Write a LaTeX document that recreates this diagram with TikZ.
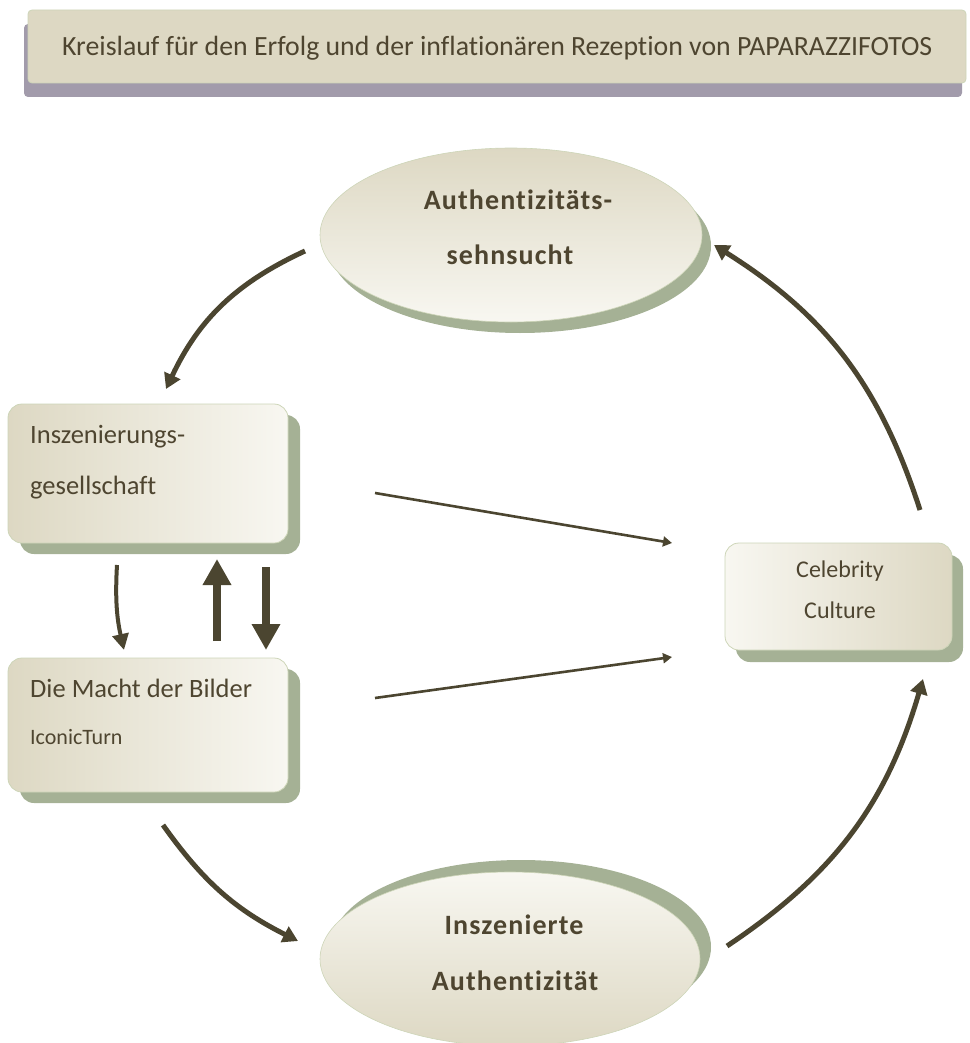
\documentclass[tikz,border=0pt]{standalone}
\usepackage{fontspec}
\setmainfont{Carlito}[Ligatures={NoCommon}]
\usetikzlibrary{shapes.geometric,shadows,arrows.meta}
\definecolor{beige}{HTML}{DDD8C3}
\definecolor{lightc}{HTML}{F8F7F1}
\definecolor{shadowc}{HTML}{A5B195}
\definecolor{titleshadow}{HTML}{A29BAB}
\definecolor{bordc}{HTML}{CDD5B8}
\definecolor{textc}{HTML}{4E4530}
\definecolor{arrowc}{HTML}{4B4530}
\begin{document}
\begin{tikzpicture}[x=1pt,y=-1pt,
  boxbase/.style={draw=bordc, line width=0.8pt, inner sep=0pt, rounded corners=14pt},
  leftbox/.style={boxbase, left color=beige, right color=lightc, minimum width=280pt,
    drop shadow={shadow xshift=12pt, shadow yshift=-11pt, fill=shadowc, opacity=1}},
  celebbox/.style={boxbase, left color=lightc, right color=beige, minimum width=227pt, minimum height=107pt,
    drop shadow={shadow xshift=11pt, shadow yshift=-12pt, fill=shadowc, opacity=1}},
  ellbase/.style={ellipse, draw=bordc, line width=0.6pt, inner sep=0pt, minimum width=382pt, minimum height=174pt},
  boxtext/.style={text=textc, inner sep=0pt, font=\fontsize{26.5}{30}\selectfont},
  elltext/.style={text=textc, inner sep=0pt, font=\fontsize{28}{33}\selectfont\bfseries\addfontfeature{LetterSpace=4}},
  bigarrow/.style={draw=arrowc, line width=5pt, -{Triangle[length=15pt, width=17pt]}},
  thinarrow/.style={draw=arrowc, line width=2.6pt, -{Triangle[length=9pt, width=10pt]}},
  fatarrow/.style={draw=arrowc, line width=8pt, -{Triangle[length=26pt, width=27pt]}}
]
\useasboundingbox (0,0) rectangle (969,1043);

% title
\node[draw=bordc, line width=0.8pt, fill=beige, rounded corners=4pt, minimum width=938pt, minimum height=73pt, inner sep=0pt,
  drop shadow={shadow xshift=-4pt, shadow yshift=-14pt, fill=titleshadow, opacity=1}] (title) at (497,46.5) {};
\node[anchor=base west, text=textc, inner sep=0pt, font=\fontsize{27.8}{31}\selectfont] (titletext) at (62,56)
  {Kreislauf für den Erfolg und der inflationären Rezeption von PAPARAZZIFOTOS};

% top ellipse
\node[ellbase, top color=beige, bottom color=lightc,
  drop shadow={shadow xshift=9pt, shadow yshift=-11pt, fill=shadowc, opacity=1}] (top) at (511,235) {};
\node[elltext, anchor=base] (topa) at (518,209) {Authentizitäts-};
\node[elltext, anchor=base] (topb) at (510,264) {sehnsucht};

% bottom ellipse
\node[ellbase, minimum width=380pt, top color=lightc, bottom color=beige,
  drop shadow={shadow xshift=11pt, shadow yshift=12pt, fill=shadowc, opacity=1}] (bot) at (510,959) {};
\node[elltext, anchor=base] (bota) at (514,934) {Inszenierte};
\node[elltext, anchor=base] (botb) at (515,990) {Authentizität};

% left boxes
\node[leftbox, minimum height=139pt] (b1) at (148,473.5) {};
\node[boxtext, anchor=base west] (b1a) at (30,443) {Inszenierungs-};
\node[boxtext, anchor=base west] (b1b) at (30,494) {gesellschaft};

\node[leftbox, minimum height=134pt] (b2) at (148,725) {};
\node[boxtext, anchor=base west] (b2a) at (30,697) {Die Macht der Bilder};
\node[boxtext, anchor=base west, font=\fontsize{22}{26}\selectfont] (b2b) at (30,744) {IconicTurn};

% celebrity
\node[celebbox] (cel) at (838.5,596.5) {};
\node[boxtext, anchor=base, font=\fontsize{24}{28}\selectfont] (cela) at (840,577) {Celebrity};
\node[boxtext, anchor=base, font=\fontsize{24}{28}\selectfont] (celb) at (840,618) {Culture};

% arrow end points
\coordinate (a1s) at (305,251);  \coordinate (a1e) at (166,389);
\coordinate (a2s) at (920,510);  \coordinate (a2e) at (714,245);
\coordinate (a3s) at (163,825);  \coordinate (a3e) at (298,941);
\coordinate (a4s) at (727,946);  \coordinate (a4e) at (923,679);
\coordinate (s1s) at (375,493);  \coordinate (s1e) at (672,543);
\coordinate (s2s) at (375,698);  \coordinate (s2e) at (672,657);
\coordinate (c1s) at (117,565);  \coordinate (c1e) at (124,650);
\coordinate (u1s) at (217,641);  \coordinate (u1e) at (217,559);
\coordinate (d1s) at (266,567);  \coordinate (d1e) at (266,650);

\draw[bigarrow] (a1s) to[bend right=20] (a1e);
\draw[bigarrow] (a2s) to[bend right=20] (a2e);
\draw[bigarrow] (a3s) to[bend right=14] (a3e);
\draw[bigarrow] (a4s) to[bend right=20] (a4e);
\draw[thinarrow] (s1s) -- (s1e);
\draw[thinarrow] (s2s) -- (s2e);
\draw[draw=arrowc, line width=4pt, -{Triangle[length=16pt, width=16pt]}] (c1s) to[bend right=8] (c1e);
\draw[fatarrow] (u1s) -- (u1e);
\draw[fatarrow] (d1s) -- (d1e);
\end{tikzpicture}
\end{document}
